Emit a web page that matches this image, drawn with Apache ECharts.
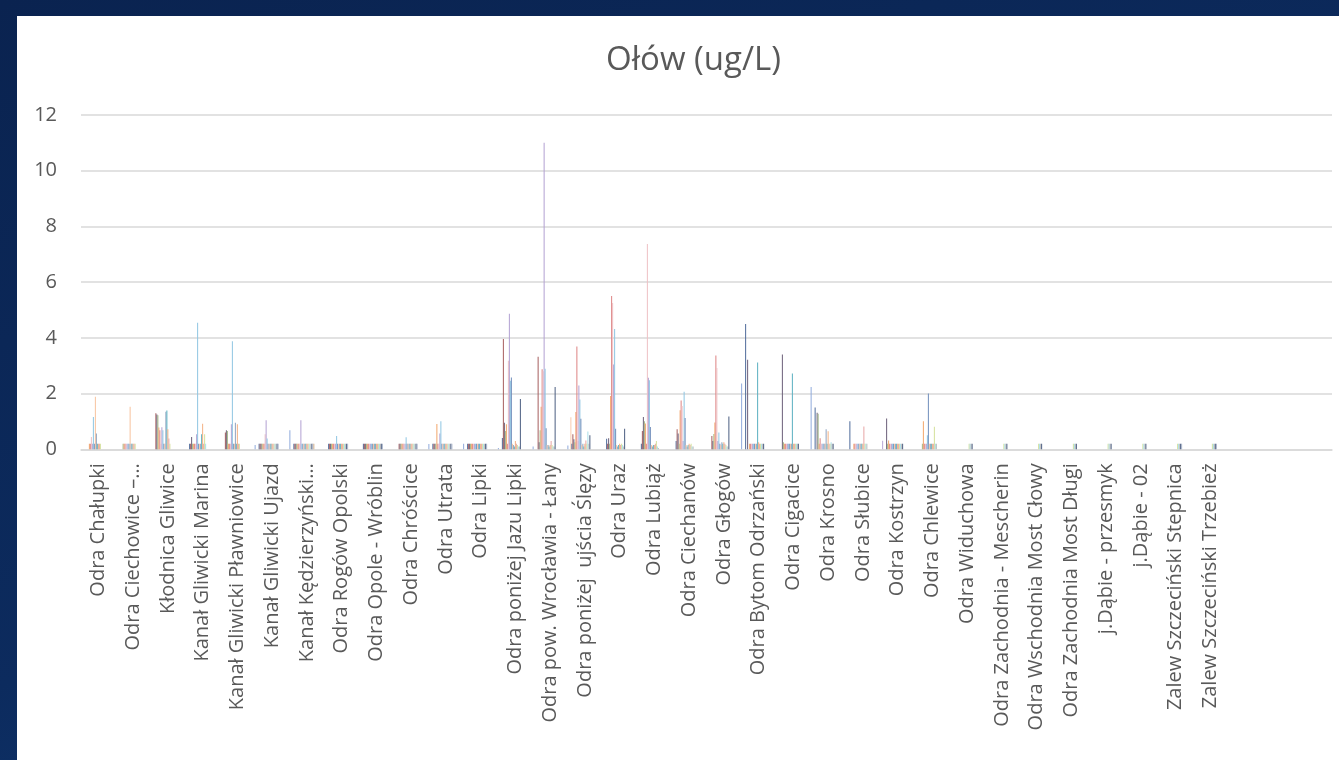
<!DOCTYPE html>
<html>
<head>
<meta charset="utf-8">
<script src="https://cdn.jsdelivr.net/npm/echarts@6/dist/echarts.min.js"></script>
<style>
  html, body { margin: 0; padding: 0; width: 1339px; height: 760px; overflow: hidden; }
  body { background: linear-gradient(160deg, #0A2350 0%, #0C2B5E 55%, #123F7A 100%); position: relative; }
  #chart { position: absolute; left: 17px; top: 16px; width: 1322px; height: 744px; background: #ffffff; }
</style>
</head>
<body>
<div id="chart"></div>
<script>
const _ = null;

const title = 'Ołów (ug/L)';

const categories = [
  'Odra Chałupki', 'Odra Ciechowice –…', 'Kłodnica Gliwice', 'Kanał Gliwicki Marina',
  'Kanał Gliwicki Pławniowice', 'Kanał Gliwicki Ujazd', 'Kanał Kędzierzyński…',
  'Odra Rogów Opolski', 'Odra Opole - Wróblin', 'Odra Chróścice', 'Odra Utrata', 'Odra Lipki',
  'Odra poniżej Jazu Lipki', 'Odra pow. Wrocławia - Łany', 'Odra poniżej  ujścia Ślęzy',
  'Odra Uraz', 'Odra Lubiąż', 'Odra Ciechanów', 'Odra Głogów', 'Odra Bytom Odrzański',
  'Odra Cigacice', 'Odra Krosno', 'Odra Słubice', 'Odra Kostrzyn', 'Odra Chlewice',
  'Odra Widuchowa', 'Odra Zachodnia - Mescherin', 'Odra Wschodnia Most Cłowy',
  'Odra Zachodnia Most Długi', 'j.Dąbie - przesmyk', 'j.Dąbie - 02',
  'Zalew Szczeciński Stepnica', 'Zalew Szczeciński Trzebież', '', '', ''
];

const yTicks = [0, 2, 4, 6, 8, 10, 12];

// one array per measurement series (values per station, ug/L)
const s00 = [_,_,_,_,_,.15,.68,_,_,_,.19,.2,.05,.1,.14,_,_,_,_,2.36,_,2.24,_,_,_,_,_,_,_,_,_,_,_];
const s01 = [_,_,_,_,_,_,_,_,_,_,_,_,_,_,_,_,_,_,_,_,_,_,_,_,_,_,_,_,_,_,_,_,_];
const s02 = [_,_,_,_,_,_,_,_,_,_,_,_,_,_,_,_,_,_,_,_,_,_,_,.31,_,_,_,_,_,_,_,_,_];
const s03 = [_,_,_,_,_,_,_,_,_,_,_,_,_,_,1.15,_,_,_,_,_,_,_,_,_,_,_,_,_,_,_,_,_,_];
const s04 = [_,_,_,.2,_,.2,.2,.2,.2,_,.2,.2,.41,_,.2,.38,.2,.3,_,4.5,_,1.5,1.01,_,_,_,_,_,_,_,_,_,_];
const s05 = [_,_,1.29,.2,.6,.2,.2,.2,.2,.2,.2,.2,3.96,3.32,.54,.2,.66,.72,.48,_,_,_,_,_,_,_,_,_,_,_,_,_,_];
const s06 = [_,_,1.25,.44,.68,.2,.2,.2,.2,.2,.2,.2,.95,.25,.36,.4,1.16,.57,.3,3.21,3.4,1.31,_,1.11,_,_,_,_,_,_,_,_,_];
const s07 = [_,.2,1.22,.2,.66,.2,.2,.2,.2,.2,.2,.2,.66,.68,.25,.2,1.01,.2,.55,_,.25,1.28,_,.2,.2,_,_,_,_,_,_,_,_];
const s08 = [.2,.2,.78,.2,.2,.2,.2,.2,.2,.2,.91,.2,.9,1.53,1.34,1.91,.93,1.4,.96,.2,.2,.2,.2,.32,1.01,_,_,_,_,_,_,_,_];
const s09 = [.2,.2,.68,.2,.2,.2,.2,.2,.2,.2,.2,.2,.2,2.87,3.69,5.5,.2,1.75,3.37,.2,.2,.4,.2,.2,.2,_,_,_,_,_,_,_,_];
const s10 = [.44,.2,.2,.2,.2,.54,.2,.2,.2,.2,.2,.2,3.18,2.8,.3,5.25,7.37,1.55,2.92,.2,.2,.2,.2,.2,.2,_,_,_,_,_,_,_,_];
const s11 = [.2,.2,.79,.54,.9,1.04,1.04,.2,.2,.2,.57,.2,4.87,11.0,2.29,3.04,2.57,.3,.3,.2,.2,.2,.2,.2,.2,_,_,_,_,_,_,_,_];
const s12 = [1.16,.2,.68,4.54,3.88,.39,.2,.48,.2,.43,1.01,.2,2.46,2.89,1.79,4.32,2.48,2.07,.6,.2,.2,.2,.2,.2,.5,_,_,_,_,_,_,_,_];
const s13 = [.2,.2,.2,.2,.2,.2,.2,.2,.2,.2,.2,.2,2.58,.76,1.1,.74,.8,1.12,.2,.2,.2,.2,.2,.2,2.0,_,_,_,_,_,_,_,_];
const s14 = [1.89,1.53,.2,.2,.2,.2,.2,.2,.2,.2,.2,.2,.2,.15,.15,.15,.15,.15,.15,.2,.2,.2,.2,.2,.2,_,_,_,_,_,_,_,_];
const s15 = [.57,.2,1.35,.2,.95,.2,.2,.2,.2,.2,.2,.2,.15,.15,.2,.1,.1,.1,.25,.2,.2,.72,.2,.2,.2,_,_,_,_,_,_,_,_];
const s16 = [.2,.2,1.39,.54,.2,.2,.2,.2,.2,.2,.2,.2,.1,.1,.1,.15,.15,.15,.2,3.12,2.72,.2,.2,.2,.2,_,_,_,_,_,_,_,_];
const s17 = [.2,.2,.72,.92,.9,.2,.2,.2,.2,.2,.2,.2,.3,.15,.2,.2,.15,.2,.25,.25,.2,.65,.2,.2,.2,_,_,_,_,_,_,_,_];
const s18 = [.2,.2,.39,.2,.2,.2,.2,.2,.2,.2,.2,.2,.2,.3,.32,.15,.2,.15,.2,.2,.2,.2,.82,.2,.2,_,_,_,_,_,_,_,_];
const s19 = [.2,.2,.2,.54,.2,.2,.2,.2,.2,.2,.2,.2,.15,.15,.2,.2,.3,.2,.15,.2,.2,.2,.2,.2,.81,.2,.2,.2,.2,.2,.2,.2,.2];
const s20 = [_,_,_,.2,_,.2,.2,.2,.2,.2,.2,.2,.1,.1,.64,.15,.1,.1,.1,.2,.2,.25,.2,.2,.2,.2,.2,.2,.2,.2,.2,.2,.2];
const s21 = [_,_,_,_,_,.2,.2,.2,.2,.2,.2,.2,.1,.1,.2,.1,.05,.1,.1,.2,.2,.2,.2,.2,.2,.2,.2,.2,.2,.2,.2,.2,.2];
const s22 = [_,_,_,_,_,.2,.2,.2,.2,.2,.2,.2,1.81,2.24,.5,.74,_,_,1.18,.2,.2,.2,_,.2,_,.2,.2,.2,.2,.2,.2,.2,.2];
const s23 = [_,_,_,_,_,.2,.2,.2,.2,.2,.2,.2,_,_,_,_,_,_,_,_,_,_,_,_,_,_,_,_,_,_,_,.2,.2];
const s24 = [_,_,_,_,_,_,.2,_,_,_,_,_,_,_,_,_,_,_,_,_,_,_,_,_,_,_,_,_,_,_,_,_,_];

const seriesData = [s00,s01,s02,s03,s04,s05,s06,s07,s08,s09,s10,s11,s12,s13,s14,s15,s16,s17,s18,s19,s20,s21,s22,s23,s24];

const colors = [
  '#8FAADC','#C9D6EE','#B9A7D4','#F8CBAD','#4E6A9A','#A65D5D','#6B5E78','#9FB586',
  '#F2A66B','#DD8383','#EEC1C4','#B2A0D2','#8EC5E2','#6F8DBB','#F7C39E','#8FA3BF',
  '#5AAFC0','#F4B183','#E7A5A5','#D4E09B','#A9DDE8','#BDBDBD','#4B5D80','#A8B3C8','#D8B48E'
];

// unused series slots in the original workbook (no measurements)
const EMPTY_SLOTS = 10;

const FONT = '"Open Sans", "Noto Sans", sans-serif';
const TEXT = '#595959';
const GRID = '#D9D9D9';

const series = seriesData.map((d, i) => ({
  name: 'S' + (i + 1),
  type: 'bar',
  data: d,
  itemStyle: { color: colors[i] },
  barGap: '0%',
  barCategoryGap: '0%',
  animation: false
}));
for (let k = 0; k < EMPTY_SLOTS; k++) {
  series.push({ name: 'E' + k, type: 'bar', data: [], barGap: '0%', barCategoryGap: '0%', animation: false });
}

const chart = echarts.init(document.getElementById('chart'), null, { renderer: 'canvas' });
chart.setOption({
  backgroundColor: '#ffffff',
  animation: false,
  title: {
    text: title,
    left: 671.5,
    textAlign: 'center',
    top: 23,
    textStyle: { fontFamily: FONT, fontSize: 33, fontWeight: 'normal', color: TEXT }
  },
  grid: { left: 64, right: 7, top: 99, bottom: 310.7, containLabel: false },
  xAxis: {
    type: 'category',
    data: categories,
    axisTick: { show: false },
    axisLine: { lineStyle: { color: GRID, width: 1.5 } },
    axisLabel: {
      interval: 0, rotate: 90, margin: 14,
      fontFamily: FONT, fontSize: 20, color: TEXT
    },
    splitLine: { show: false }
  },
  yAxis: {
    type: 'value',
    min: yTicks[0], max: yTicks[yTicks.length - 1], interval: yTicks[1] - yTicks[0],
    axisLine: { show: false },
    axisTick: { show: false },
    axisLabel: { fontFamily: FONT, fontSize: 20, color: TEXT, margin: 24 },
    splitLine: { lineStyle: { color: GRID, width: 1.5 } }
  },
  series: series
});
</script>
</body>
</html>
